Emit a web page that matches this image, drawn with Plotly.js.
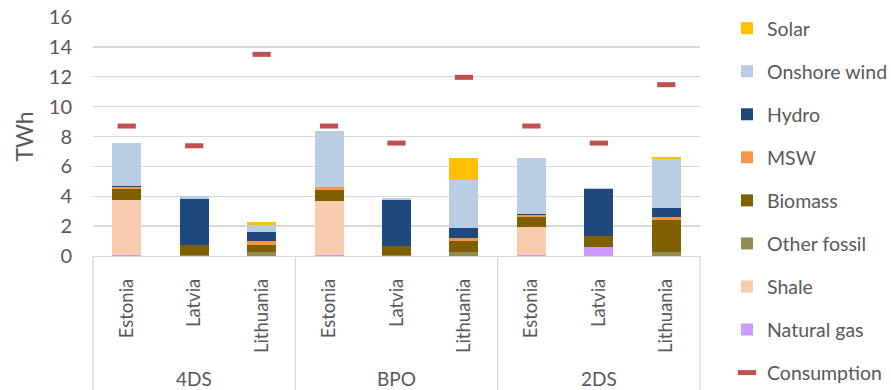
<!DOCTYPE html>
<html>
<head>
<meta charset="utf-8">
<script src="https://cdn.plot.ly/plotly-3.0.1.min.js"></script>
<style>
  html, body { margin: 0; padding: 0; background: #fff; }
  #chart { width: 891px; height: 390px; }
</style>
</head>
<body>
<div id="chart"></div>
<script>
// Scenario groups and the countries inside each group
const scenarios = ["4DS", "BPO", "2DS"];
const countries = ["Estonia", "Latvia", "Lithuania"];

// Generation by source, TWh (order: 4DS EE, LV, LT, BPO EE, LV, LT, 2DS EE, LV, LT)
const naturalGas  = [0.04, 0,    0,    0.04, 0,    0,    0.04, 0.62, 0];
const shale       = [3.70, 0,    0,    3.64, 0,    0,    1.88, 0,    0];
const otherFossil = [0,    0.05, 0.27, 0,    0.05, 0.29, 0,    0,    0.29];
const biomass     = [0.75, 0.66, 0.49, 0.76, 0.60, 0.69, 0.69, 0.72, 2.12];
const msw         = [0.13, 0,    0.25, 0.16, 0,    0.22, 0.13, 0,    0.20];
const hydro       = [0.05, 3.11, 0.63, 0.05, 3.12, 0.65, 0.05, 3.12, 0.60];
const onshoreWind = [2.91, 0.18, 0.44, 3.70, 0.11, 3.24, 3.75, 0.07, 3.26];
const solar       = [0,    0,    0.22, 0,    0,    1.45, 0,    0,    0.18];
const consumption = [8.70, 7.38, 13.50, 8.70, 7.56, 11.96, 8.70, 7.56, 11.47];

const yTicks = [0, 2, 4, 6, 8, 10, 12, 14, 16];

const FONT = "Lato, 'Open Sans', sans-serif";
const TEXT = "#595959";
const GRID = "#D9D9D9";

// one slot per scenario/country pair
const labels = [];
scenarios.forEach(() => countries.forEach(c => labels.push(c)));
const xs = labels.map((_, i) => i);

const sources = [
  { name: "Natural gas",  y: naturalGas,  color: "#CC99FF" },
  { name: "Shale",        y: shale,       color: "#F8CBAD" },
  { name: "Other fossil", y: otherFossil, color: "#948A54" },
  { name: "Biomass",      y: biomass,     color: "#7F6000" },
  { name: "MSW",          y: msw,         color: "#F79646" },
  { name: "Hydro",        y: hydro,       color: "#1F497D" },
  { name: "Onshore wind", y: onshoreWind, color: "#B9CDE5" },
  { name: "Solar",        y: solar,       color: "#FFC000" }
];

const traces = sources.map((s, k) => ({
  type: "bar",
  name: s.name,
  x: xs,
  y: s.y,
  width: 0.43,
  marker: { color: s.color, line: { width: 0 } },
  legendgroup: s.name,
  legendrank: 100 - k,
  hoverinfo: "skip"
}));

traces.push({
  type: "scatter",
  mode: "markers",
  name: "Consumption",
  x: xs,
  y: consumption,
  marker: { symbol: "line-ew", size: 13, color: "#C0504D", line: { width: 5, color: "#C0504D" } },
  legendgroup: "Consumption",
  legendrank: 200,
  hoverinfo: "skip"
});

// group separators and scenario labels under the category labels
const n = labels.length;
const shapes = [];
const annotations = [];
const belowPlot = -134 / 239;
let start = 0;
shapes.push({ type: "line", xref: "paper", yref: "paper", x0: 0, x1: 0, y0: 0, y1: belowPlot,
              line: { color: GRID, width: 1.3 } });
scenarios.forEach(g => {
  const end = start + countries.length;
  shapes.push({ type: "line", xref: "paper", yref: "paper", x0: end / n, x1: end / n, y0: 0, y1: belowPlot,
                line: { color: GRID, width: 1.3 } });
  annotations.push({ xref: "paper", yref: "paper", x: (start + end) / 2 / n, y: -122 / 239,
                     yanchor: "middle", xanchor: "center", showarrow: false, text: g,
                     font: { family: FONT, size: 19, color: TEXT } });
  start = end;
});

const layout = {
  width: 891,
  height: 390,
  margin: { l: 93, r: 191, t: 17, b: 134 },
  paper_bgcolor: "#fff",
  plot_bgcolor: "#fff",
  barmode: "stack",
  showlegend: true,
  font: { family: FONT, color: TEXT, size: 18 },
  xaxis: {
    range: [-0.5, n - 0.5],
    tickmode: "array",
    tickvals: xs,
    ticktext: labels,
    tickangle: -90,
    ticks: "",
    ticklabelstandoff: 14,
    showgrid: false,
    zeroline: false,
    showline: true,
    linecolor: GRID,
    linewidth: 1.3,
    tickfont: { family: FONT, size: 18.5, color: TEXT },
    fixedrange: true
  },
  yaxis: {
    range: [0, 16],
    tickmode: "array",
    tickvals: yTicks,
    ticktext: yTicks.map(String),
    ticks: "",
    ticklabelstandoff: 20,
    showgrid: true,
    gridcolor: GRID,
    gridwidth: 1.3,
    zeroline: false,
    tickfont: { family: FONT, size: 20, color: TEXT },
    title: { text: "TWh", font: { family: FONT, size: 23, color: TEXT }, standoff: 8 },
    fixedrange: true
  },
  legend: {
    x: 727 / 891,
    xref: "container",
    y: 1 - 9 / 390,
    yref: "container",
    xanchor: "left",
    yanchor: "top",
    traceorder: "grouped",
    tracegroupgap: 14.7,
    maxheight: 1,
    font: { family: FONT, size: 19.5, color: TEXT },
    bgcolor: "rgba(0,0,0,0)",
    itemwidth: 30
  },
  shapes: shapes,
  annotations: annotations
};

Plotly.newPlot("chart", traces, layout, { displayModeBar: false, staticPlot: true });
</script>
</body>
</html>
